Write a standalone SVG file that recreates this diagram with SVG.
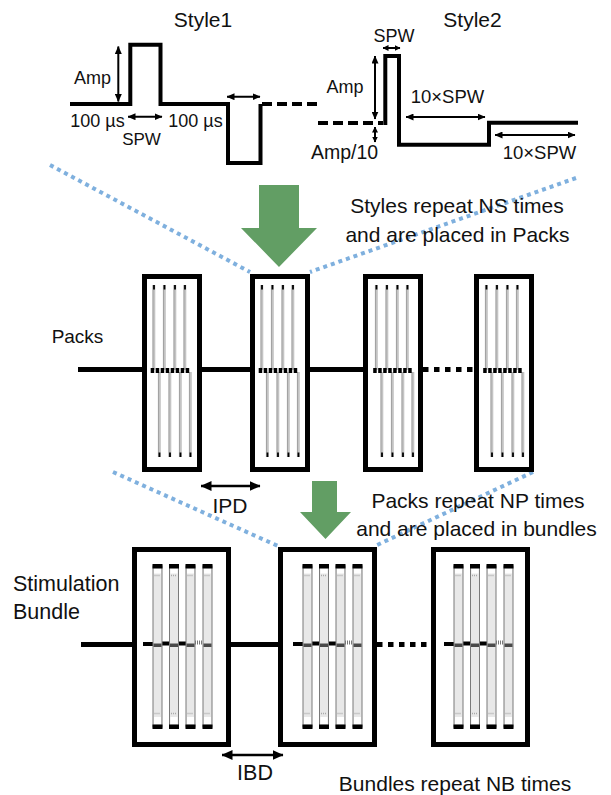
<svg xmlns="http://www.w3.org/2000/svg" width="611" height="795" viewBox="0 0 611 795">
<style>
text { font-family: "Liberation Sans", Arial, sans-serif; fill: #111; }
.t21 { font-size: 21px; }
.t18 { font-size: 18px; }
.mid { text-anchor: middle; }
.wave { fill: none; stroke: #000; stroke-width: 4; stroke-linejoin: miter; }
.dash { fill: none; stroke: #000; stroke-width: 4; stroke-dasharray: 10 5; }
.arr { fill: none; stroke: #000; stroke-width: 2; }
.arrL { fill: none; stroke: #000; stroke-width: 2.6; }
.box { fill: #fff; stroke: #000; stroke-width: 5; }
.blue { fill: none; stroke: #7fb0de; stroke-width: 4; stroke-dasharray: 4 4; }
.green { fill: #629e64; }
.main { fill: none; stroke: #000; stroke-width: 5; }
.dots { fill: none; stroke: #000; stroke-width: 5; stroke-dasharray: 5.5 5.5; }
</style>
<defs>
<marker id="ah" markerUnits="userSpaceOnUse" markerWidth="8" markerHeight="7" refX="7.5" refY="3.5" orient="auto-start-reverse"><path d="M0,0L8,3.5L0,7z" fill="#000"/></marker>
<marker id="ahS" markerUnits="userSpaceOnUse" markerWidth="6" markerHeight="6" refX="5.5" refY="3" orient="auto-start-reverse"><path d="M0,0L6,3L0,6z" fill="#000"/></marker>
<marker id="ahL" markerUnits="userSpaceOnUse" markerWidth="11" markerHeight="10" refX="10.5" refY="5" orient="auto-start-reverse"><path d="M0,0L11,5L0,10z" fill="#000"/></marker>
<g id="packInner">
<path d="M12,285V370M22.5,285V370M33,285V370M43,285V370M17.5,372V457M28,372V457M38.5,372V457M48.5,372V457" stroke="#c4c4c4" stroke-width="2.6" fill="none"/>
<path d="M10.9,285V370M21.4,285V370M31.9,285V370M41.9,285V370M16.4,372V457M26.9,372V457M37.4,372V457M47.4,372V457" stroke="#8a8a8a" stroke-width="0.7" fill="none"/>
<path d="M12,285V289.5M22.5,285V289.5M33,285V289.5M43,285V289.5M17.5,452.5V457M28,452.5V457M38.5,452.5V457M48.5,452.5V457" stroke="#000" stroke-width="1.8" fill="none"/>
<path d="M8.7,370.5H48" stroke="#000" stroke-width="5" stroke-dasharray="3.5 1.5" fill="none"/>
</g>
<g id="bb">
<rect x="0" y="2" width="9" height="161" fill="#e8e8e8" stroke="#7a7a7a" stroke-width="1"/>
<rect x="1" y="4.5" width="7" height="5" fill="#fff"/>
<rect x="1" y="153" width="7" height="7" fill="#fff"/>
<path d="M1.5,11.5H7.5M1.5,149.5H7.5" stroke="#aaa" stroke-width="1.5" stroke-dasharray="1 1" fill="none"/>
<rect x="-0.5" y="0" width="10" height="4.5" fill="#000"/>
<rect x="-0.5" y="160.5" width="10" height="4.5" fill="#000"/>
<rect x="0.5" y="79.5" width="8" height="3.5" fill="#4a4a4a"/>
</g>
<g id="bInner">
<path d="M-10,644H0M9,643.5H16.5M25.5,643.5H33" stroke="#000" stroke-width="4" fill="none"/>
<path d="M42,642.5H50" stroke="#777" stroke-width="4" stroke-dasharray="1 1" fill="none"/>
<use href="#bb" x="0" y="564"/>
<use href="#bb" x="16.5" y="564"/>
<use href="#bb" x="33" y="564"/>
<use href="#bb" x="50" y="564"/>
</g>
</defs>

<g id="connectors">
<path class="blue" d="M50,165L250,272"/>
<path class="blue" d="M576,178L310,272"/>
<path class="blue" d="M113,472L278,546"/>
<path class="blue" d="M533,472L375,546"/>
<path class="main" d="M78,369.5H363"/>
<path class="dots" d="M423,369.5H474"/>
<path class="main" d="M81,644.5H377"/>
<path class="dots" d="M377,644.5H431"/>
<path class="arrL" d="M201,486H260" marker-start="url(#ahL)" marker-end="url(#ahL)"/>
<path class="arrL" d="M222,755H283" marker-start="url(#ahL)" marker-end="url(#ahL)"/>
</g>

<g id="style1">
<text class="t21 mid" x="203" y="27">Style1</text>
<path class="wave" d="M70,104H130.3V44.7H160.5V104H228V163H260.5V104"/>
<path class="dash" d="M262,104H318"/>
<path class="arr" d="M118.3,46.5V101.5" marker-start="url(#ah)" marker-end="url(#ah)"/>
<path class="arr" d="M128,116.7H162" marker-start="url(#ah)" marker-end="url(#ah)"/>
<path class="arr" d="M227,96.7H260" marker-start="url(#ah)" marker-end="url(#ah)"/>
<text class="t18 mid" x="92.5" y="84">Amp</text>
<text class="t18 mid" x="97.5" y="127">100 µs</text>
<text class="mid" style="font-size:17px" x="141.5" y="145">SPW</text>
<text class="t18 mid" x="195.5" y="127">100 µs</text>
</g>

<g id="style2">
<text class="t21 mid" x="472.5" y="27">Style2</text>
<path class="dash" d="M318,123H383"/>
<path class="wave" d="M385.3,125V56H399V144.7H489V122.7H578"/>
<path class="arr" d="M383,48H400" marker-start="url(#ahS)" marker-end="url(#ahS)"/>
<path class="arr" d="M375,56V119" marker-start="url(#ah)" marker-end="url(#ah)"/>
<path class="arr" d="M375,127V142" marker-start="url(#ahS)" marker-end="url(#ahS)"/>
<path class="arr" d="M406,117H485" marker-start="url(#ah)" marker-end="url(#ah)"/>
<path class="arr" d="M495,135H575" marker-start="url(#ah)" marker-end="url(#ah)"/>
<text class="t18 mid" x="394" y="42">SPW</text>
<text class="t18 mid" x="345" y="93">Amp</text>
<text class="mid" style="font-size:18.5px" x="447.5" y="103">10×SPW</text>
<text class="mid" style="font-size:19.5px" x="344.5" y="159">Amp/10</text>
<text class="mid" style="font-size:18.5px" x="539.5" y="159">10×SPW</text>
</g>

<g id="arrow1">
<polygon class="green" points="259,185 299,185 299,228 317,228 279,267 241,228 259,228"/>
</g>
<g id="caption1">
<text class="t21 mid" x="457" y="213">Styles repeat NS times</text>
<text class="t21 mid" x="457.5" y="242">and are placed in Packs</text>
</g>

<g id="packsLabel"><text class="mid" style="font-size:19px" x="77.5" y="343">Packs</text></g>
<g id="pack1"><rect class="box" x="144.5" y="276.5" width="55" height="193"/><use href="#packInner" x="142" y="0"/></g>
<g id="pack2"><rect class="box" x="252.5" y="276.5" width="55" height="193"/><use href="#packInner" x="250" y="0"/></g>
<g id="pack3"><rect class="box" x="365.5" y="276.5" width="55" height="193"/><use href="#packInner" x="364.5" y="0"/></g>
<g id="pack4"><rect class="box" x="476.5" y="276.5" width="55" height="193"/><use href="#packInner" x="474.5" y="0"/></g>

<g id="ipd"><text class="t21 mid" x="230" y="513">IPD</text></g>
<g id="arrow2">
<polygon class="green" points="312,481 337,481 337,512 351,512 325.5,539 300,512 312,512"/>
</g>
<g id="caption2">
<text class="t21 mid" x="478" y="508">Packs repeat NP times</text>
<text class="t21 mid" x="476.5" y="536">and are placed in bundles</text>
</g>

<g id="bundleLabel">
<text style="font-size:21.5px" x="13" y="591">Stimulation</text>
<text style="font-size:21.5px" x="13" y="619">Bundle</text>
</g>
<g id="bundle1"><rect class="box" x="134.5" y="549.5" width="94" height="195"/><use href="#bInner" x="153" y="0"/></g>
<g id="bundle2"><rect class="box" x="280.5" y="549.5" width="94" height="195"/><use href="#bInner" x="303" y="0"/></g>
<g id="bundle3"><rect class="box" x="433.5" y="549.5" width="94" height="195"/><use href="#bInner" x="454" y="0"/></g>

<g id="ibd"><text class="mid" style="font-size:21.5px" x="255" y="780">IBD</text></g>
<g id="caption3"><text class="t21 mid" x="455" y="791">Bundles repeat NB times</text></g>
</svg>
